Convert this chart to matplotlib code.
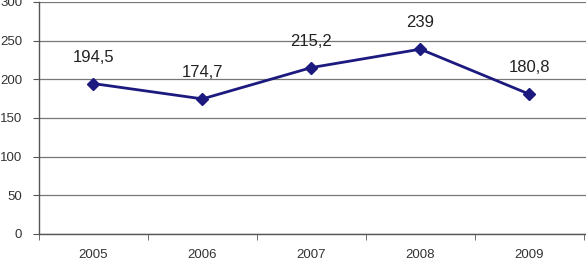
import matplotlib
matplotlib.use("Agg")
import matplotlib.pyplot as plt
import numpy as np

# --- data ---
years = ["2005", "2006", "2007", "2008", "2009"]
values = [194.5, 174.7, 215.2, 239, 180.8]
value_labels = ["194,5", "174,7", "215,2", "239", "180,8"]

plt.rcParams['font.family'] = ['Liberation Sans', 'DejaVu Sans']

fig = plt.figure(figsize=(5.86, 2.66), dpi=100)
ax = fig.add_axes([39 / 586, 32 / 266, 547 / 586, 232 / 266])

x = np.arange(len(years))
ax.plot(x, values, color='#1c1a7e', linewidth=2, marker='D', markersize=6)

for xi, v, lab in zip(x, values, value_labels):
    ax.annotate(lab, (xi, v), xytext=(0, 19), textcoords='offset points',
                ha='center', va='center', fontsize=12, color='#222222')

ax.set_ylim(0, 300)
ax.set_yticks(range(0, 301, 50))
ax.set_xlim(-0.5, 4.52)

# category labels in the middle, tick marks between categories
ax.set_xticks(x)
ax.set_xticklabels(years)
ax.set_xticks(np.arange(-0.5, 5.0, 1.0), minor=True)
ax.tick_params(axis='x', which='major', length=0, pad=11, labelsize=9.5, colors='#333333')
ax.tick_params(axis='x', which='minor', length=4, color='#555555')
ax.tick_params(axis='y', length=4, color='#555555', labelsize=9.5, labelcolor='#333333', pad=8)

ax.grid(axis='y', color='#777777', linewidth=0.9)
ax.set_axisbelow(True)
for side in ['top', 'right']:
    ax.spines[side].set_visible(False)
for side in ['left', 'bottom']:
    ax.spines[side].set_color('#555555')
    ax.spines[side].set_linewidth(1.0)

fig.savefig('out.png', dpi=100)
